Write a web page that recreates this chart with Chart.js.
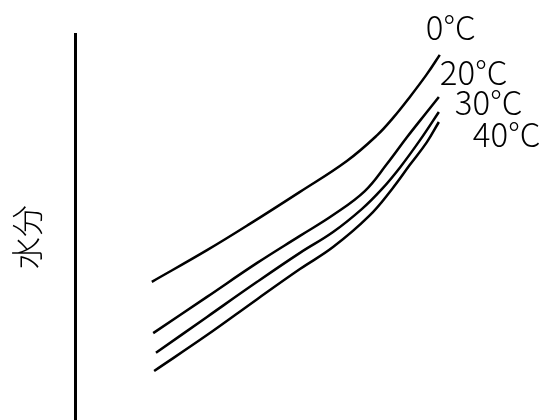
<!DOCTYPE html>
<html lang="ja">
<head>
<meta charset="UTF-8">
<title>水分</title>
<style>
  html, body { margin: 0; padding: 0; background: #fff; }
  #wrap { width: 546px; height: 420px; }
</style>
<script src="https://cdn.jsdelivr.net/npm/chart.js@4/dist/chart.umd.min.js"></script>
</head>
<body>
<div id="wrap"><canvas id="chart" width="546" height="420"></canvas></div>
<script>
// curve labels
const seriesNames = ['0°C', '20°C', '30°C', '40°C'];
const yTitle = '水分';

// (x and y on a 0-100 scale)
const x0C  = [16.7, 28.7, 38.0, 48.9, 59.1, 65.7, 69.1, 72.8, 76.5, 79.3];
const y0C  = [35.8, 44.0, 50.8, 59.1, 67.1, 73.8, 78.2, 83.7, 89.6, 94.6];

const x20C = [17.0, 28.7, 39.6, 48.9, 56.1, 63.0, 67.8, 72.2, 76.5, 79.1];
const y20C = [22.5, 31.9, 40.7, 47.7, 53.1, 59.3, 66.3, 73.3, 79.8, 83.7];

const x30C = [17.6, 28.7, 39.6, 48.9, 56.1, 62.4, 66.7, 70.7, 75.0, 79.1];
const y30C = [17.4, 26.7, 35.8, 43.3, 48.7, 54.7, 59.8, 65.5, 72.5, 79.8];

const x40C = [17.2, 28.7, 39.6, 48.9, 56.1, 63.9, 68.9, 72.8, 76.5, 79.1];
const y40C = [12.7, 22.0, 31.3, 39.1, 44.8, 52.8, 59.8, 66.1, 72.0, 77.2];

const allX = [x0C, x20C, x30C, x40C];
const allY = [y0C, y20C, y30C, y40C];

function toPoints(xs, ys) {
  return xs.map((x, i) => ({x: x, y: ys[i]}));
}

// label placement relative to the end of each curve (pixels)
const labelShift = [[-14, -15], [1, -12], [16, 3], [34, 25]];

const curveLabels = {
  id: 'curveLabels',
  afterDatasetsDraw(chart) {
    const ctx = chart.ctx;
    ctx.save();
    ctx.fillStyle = '#000';
    ctx.font = '300 33px "Noto Sans CJK JP"';
    ctx.textBaseline = 'alphabetic';
    chart.data.datasets.forEach((ds, i) => {
      const pts = chart.getDatasetMeta(i).data;
      const end = pts[pts.length - 1];
      ctx.fillText(ds.label, end.x + labelShift[i][0], end.y + labelShift[i][1]);
    });
    ctx.restore();
  }
};

// vertical axis title
const axisTitle = {
  id: 'axisTitle',
  afterDraw(chart) {
    const ctx = chart.ctx;
    ctx.save();
    ctx.translate(27, 237);
    ctx.rotate(-Math.PI / 2);
    ctx.fillStyle = '#000';
    ctx.font = '300 32px "Noto Sans CJK JP"';
    ctx.textAlign = 'center';
    ctx.textBaseline = 'middle';
    ctx.fillText(yTitle, 0, 0);
    ctx.restore();
  }
};

const ctx = document.getElementById('chart').getContext('2d');
new Chart(ctx, {
  type: 'line',
  data: {
    datasets: seriesNames.map((name, i) => ({
      label: name,
      data: toPoints(allX[i], allY[i]),
      borderColor: '#000',
      borderWidth: 2.5,
      pointRadius: 0,
      fill: false,
      tension: 0.4
    }))
  },
  options: {
    responsive: false,
    animation: false,
    layout: { padding: { left: 75, top: 34, right: 11, bottom: 0 } },
    plugins: { legend: { display: false }, tooltip: { enabled: false } },
    scales: {
      x: { type: 'linear', min: 0, max: 100, display: false },
      y: {
        type: 'linear', min: 0, max: 100,
        grid: { display: false, drawTicks: false, tickLength: 0 },
        ticks: { display: false },
        border: { display: true, color: '#000', width: 3 }
      }
    }
  },
  plugins: [curveLabels, axisTitle]
});
</script>
</body>
</html>
